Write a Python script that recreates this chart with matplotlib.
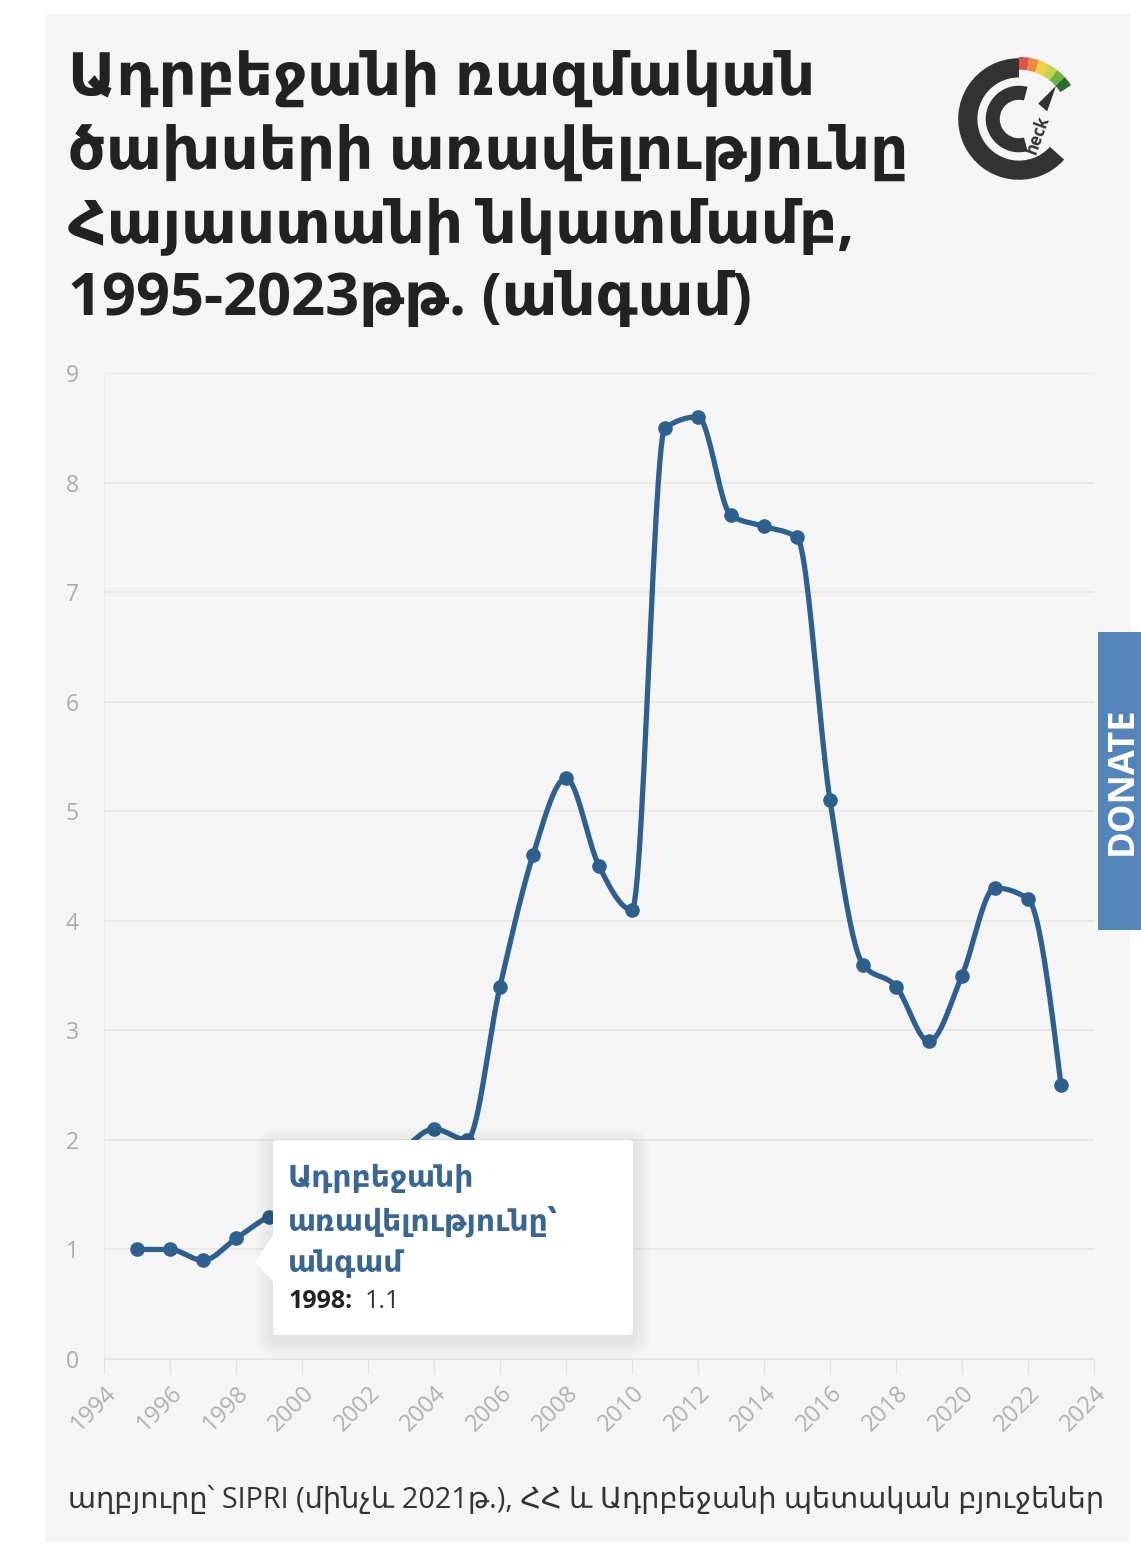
import numpy as np
import matplotlib
matplotlib.use("Agg")
import matplotlib.pyplot as plt
from matplotlib.patches import Rectangle, FancyBboxPatch, Polygon, Wedge

# Open Sans first, DejaVu as fallback for missing glyphs
plt.rcParams['font.family'] = ['Open Sans', 'DejaVu Sans']

# data
years = list(range(1995, 2024))
ratio = [1.0, 1.0, 0.9, 1.1, 1.3, 1.4, 1.6, 1.7, 1.9, 2.1,
         2.0, 3.4, 4.6, 5.3, 4.5, 4.1, 8.5, 8.6, 7.7, 7.6,
         7.5, 5.1, 3.6, 3.4, 2.9, 3.5, 4.3, 4.2, 2.5]
xticks = list(range(1994, 2025, 2))
yticks = list(range(0, 10))

title = "Ադրբեջանի ռազմական\nծախսերի առավելությունը\nՀայաստանի նկատմամբ,\n1995-2023թթ. (անգամ)"
source = "աղբյուրը՝ SIPRI (մինչև 2021թ.), ՀՀ և Ադրբեջանի պետական բյուջեներ"
tip_title = "Ադրբեջանի\nառավելությունը՝\nանգամ"
tip_year = 1998

LINE = "#2f5f8c"
W, H = 1141, 1546


def monotone_x(x, y, n=25):
    # d3 curveMonotoneX style interpolation
    x = np.asarray(x, float)
    y = np.asarray(y, float)
    h = np.diff(x)
    s = np.diff(y) / h
    m = np.zeros_like(y)
    for k in range(1, len(y) - 1):
        s0, s1 = s[k - 1], s[k]
        p = (s0 * h[k] + s1 * h[k - 1]) / (h[k - 1] + h[k])
        m[k] = (np.sign(s0) + np.sign(s1)) * min(abs(s0), abs(s1), 0.5 * abs(p))
    m[0] = (3 * s[0] - m[1]) / 2
    m[-1] = (3 * s[-1] - m[-2]) / 2
    xs, ys = [], []
    for k in range(len(h)):
        t = np.linspace(0, 1, n, endpoint=(k == len(h) - 1))
        h00 = 2 * t**3 - 3 * t**2 + 1
        h10 = t**3 - 2 * t**2 + t
        h01 = -2 * t**3 + 3 * t**2
        h11 = t**3 - t**2
        xs.append(x[k] + t * h[k])
        ys.append(h00 * y[k] + h10 * h[k] * m[k] + h01 * y[k + 1] + h11 * h[k] * m[k + 1])
    return np.concatenate(xs), np.concatenate(ys)


fig = plt.figure(figsize=(W / 100, H / 100), dpi=100)
fig.patch.set_facecolor("white")

# panel background
bg = fig.add_axes([0, 0, 1, 1], zorder=0)
bg.set_xlim(0, W)
bg.set_ylim(H, 0)
bg.axis("off")
bg.add_patch(Rectangle((45, 14), 1085, 1528, facecolor="#f5f5f5", edgecolor="none"))
bg.text(68, 50, title, fontsize=42.8, fontweight="bold", color="#222222",
        va="top", ha="left", linespacing=1.32)
bg.text(68, 1500, source, fontsize=20.7, color="#333333", va="center", ha="left")

# main chart
x0, x1 = 104, 1094
y9, y0 = 373, 1359
ax = fig.add_axes([x0 / W, 1 - y0 / H, (x1 - x0) / W, (y0 - y9) / H], zorder=1)
ax.set_facecolor("none")
ax.set_xlim(1994, 2024)
ax.set_ylim(0, 9)
sx, sy = monotone_x(years, ratio)
ax.plot(sx, sy, color=LINE, lw=3.8, solid_capstyle="round", zorder=3)
ax.plot(years, ratio, "o", color=LINE, ms=9.5, zorder=4)
ax.set_yticks(yticks)
ax.set_xticks(xticks)
ax.grid(axis="y", color="#e6e6e6", lw=1.2)
for sp in ["top", "right", "left"]:
    ax.spines[sp].set_visible(False)
ax.spines["bottom"].set_color("#e2e2e2")
ax.tick_params(axis="y", length=0, pad=18, labelsize=16.5, labelcolor="#ababab")
ax.tick_params(axis="x", length=11, color="#e2e2e2", pad=5, labelsize=17,
               labelcolor="#b0b0b0")
for lab in ax.get_xticklabels():
    lab.set_rotation(45)
    lab.set_ha("right")
    lab.set_va("top")
    lab.set_rotation_mode("anchor")
ax.axvline(1994, color="#eaeaea", lw=1.2, zorder=0)

# overlay: tooltip, logo, donate
ov = fig.add_axes([0, 0, 1, 1], zorder=2)
ov.set_xlim(0, W)
ov.set_ylim(H, 0)
ov.axis("off")
ov.patch.set_alpha(0)

for i in range(6):
    d = 2 + 3 * i
    ov.add_patch(FancyBboxPatch((273 - d, 1140 - d + 5), 360 + 2 * d, 195 + 2 * d,
                                boxstyle="round,pad=0,rounding_size=%d" % (6 + d),
                                facecolor="black", edgecolor="none", alpha=0.012))
ov.add_patch(FancyBboxPatch((273, 1140), 360, 195, boxstyle="round,pad=0,rounding_size=4",
                            facecolor="white", edgecolor="none"))
ov.add_patch(Polygon([[275, 1232], [255, 1262], [275, 1284]], closed=True,
                     facecolor="white", edgecolor="none"))
ov.text(288, 1164, tip_title, fontsize=21.5, fontweight="semibold", color="#3a6690",
        va="top", ha="left", linespacing=1.5)
yv = ratio[years.index(tip_year)]
ov.text(288, 1302, f"{tip_year}:", fontsize=18, fontweight="bold", color="#222222",
        va="center", ha="left")
ov.text(365, 1302, f"{yv}", fontsize=18, color="#333333", va="center", ha="left")

ov.add_patch(Rectangle((1098, 632), 50, 298, facecolor="#5584b8", edgecolor="none"))
ov.text(1123, 781, "DONATE", fontsize=26, fontweight="bold", color="white",
        rotation=90, va="center", ha="center")

# logo
lg = fig.add_axes([955 / W, 1 - 186 / H, 128 / W, 134 / H], zorder=2)
lg.set_xlim(-1.0, 1.0)
lg.set_ylim(-1.0, 1.0)
lg.set_aspect("equal")
lg.axis("off")
dark = "#333333"
lg.add_patch(Wedge((0, 0), 0.95, 90, 318, width=0.3, facecolor=dark, edgecolor="none"))
segs = ["#d9534f", "#ee8a3c", "#f3cf45", "#c5d64c", "#6cb33f", "#2d6a2f"]
a = 90
for c in segs:
    lg.add_patch(Wedge((0, 0), 0.97, a - 9.5, a, width=0.2, facecolor=c, edgecolor="none"))
    a -= 9.5
lg.add_patch(Wedge((0, 0), 0.52, 75, 285, width=0.22, facecolor=dark, edgecolor="none"))
lg.add_patch(Polygon([[0.3, 0.24], [0.58, 0.52], [0.44, 0.12]], closed=True,
                     facecolor=dark, edgecolor="none"))
lg.text(0.3, -0.25, "heck", fontsize=12, fontweight="bold", color=dark, rotation=70,
        ha="center", va="center")

fig.savefig("out.png", dpi=100, facecolor=fig.get_facecolor())
